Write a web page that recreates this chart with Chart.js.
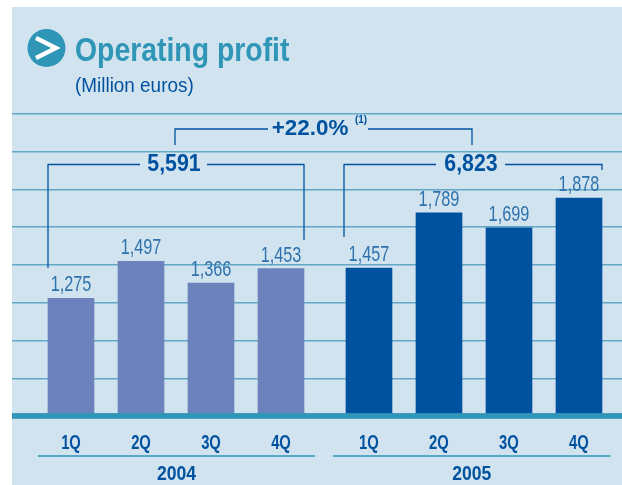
<!DOCTYPE html>
<html><head><meta charset="utf-8">
<script src="https://cdn.jsdelivr.net/npm/chart.js@4"></script>
<style>
html,body{margin:0;padding:0;background:#fff;width:622px;height:485px;overflow:hidden}
#panel{position:absolute;left:12px;top:7px;width:610px;height:478px;background:#d0e3ef}
canvas{position:absolute;left:0;top:0}
</style></head><body>
<div id="panel"></div>
<canvas id="c" width="622" height="485"></canvas>
<script>
const quarters=["1Q","2Q","3Q","4Q"];
const years=["2004","2005"];
const values2004=[1275,1497,1366,1453];
const values2005=[1457,1789,1699,1878];
const totals=["5,591","6,823"];
const growth="+22.0%";
const footnote="(1)";
const titleText="Operating profit";
const subtitleText="(Million euros)";

const BLUE="#00529f",TEAL="#2f96b8",SANS='"Liberation Sans",sans-serif';
const yearGap=0.257;
const pos=(y,q)=>y*4+q+y*yearGap;
const ds=(y,vals,color)=>({label:years[y],data:vals.map((v,q)=>({x:pos(y,q),y:v})),backgroundColor:color,barThickness:46,grouped:false});

function txt(ctx,s,x,y,font,color,align,sx){ctx.save();ctx.translate(x,y);ctx.scale(sx||1,1);ctx.font=font;ctx.fillStyle=color;ctx.textAlign=align||"center";ctx.textBaseline="alphabetic";ctx.fillText(s,0,0);ctx.restore();}
function seg(ctx,pts,color,w){ctx.beginPath();ctx.strokeStyle=color;ctx.lineWidth=w||1.3;pts.forEach((p,i)=>i?ctx.lineTo(p[0],p[1]):ctx.moveTo(p[0],p[1]));ctx.stroke();}

const deco={id:"deco",afterDatasetsDraw(chart){
  const ctx=chart.ctx,x=chart.scales.x,a0=chart.chartArea;ctx.save();
  // axis band
  ctx.fillStyle=TEAL;ctx.fillRect(a0.left,a0.bottom-3.2,a0.right-a0.left,5.7);
  // header
  ctx.beginPath();ctx.arc(46.5,48,19,0,Math.PI*2);ctx.fillStyle=TEAL;ctx.fill();
  seg(ctx,[[36,38],[56,48],[36,58]],"#fff",4.2);
  txt(ctx,titleText,75,61,'bold 33px '+SANS,TEAL,"left",0.86);
  txt(ctx,subtitleText,75,92,'21px '+SANS,BLUE,"left",0.9);
  // value labels
  const bars=[];
  chart.data.datasets.forEach((d,di)=>{chart.getDatasetMeta(di).data.forEach((b,i)=>{
    bars.push(b);
    txt(ctx,d.data[i].y.toLocaleString("en-US"),b.x,b.y-7,'22px '+SANS,"#2f72ad","center",0.74);
  });});
  // quarter tick labels
  x.ticks.forEach((t,i)=>txt(ctx,quarters[i%4],x.getPixelForTick(i),449,'bold 20px '+SANS,BLUE,"center",0.74));
  // year underlines and labels
  years.forEach((yr,y)=>{
    const a=x.getPixelForValue(pos(y,0))-33-y*3,b=x.getPixelForValue(pos(y,3))+34-y*2.5;
    seg(ctx,[[a,456],[b,456]],TEAL,1.3);
    txt(ctx,yr,(a+b)/2,480,'bold 20px '+SANS,BLUE,"center",0.88);
  });
  // total brackets
  const L=b=>b.x-b.width/2,R=b=>b.x+b.width/2;
  const c1=(L(bars[0])+R(bars[3]))/2,c2=(L(bars[4])+R(bars[7]))/2;
  seg(ctx,[[140,164.5],[L(bars[0]),164.5],[L(bars[0]),268]],BLUE);
  seg(ctx,[[207,164.5],[R(bars[3]),164.5],[R(bars[3]),240]],BLUE);
  txt(ctx,totals[0],c1-2,171,'bold 24px '+SANS,BLUE,"center",0.89);
  seg(ctx,[[436,164.5],[L(bars[4])-2,164.5],[L(bars[4])-2,237]],BLUE);
  seg(ctx,[[505,164.5],[R(bars[7]),164.5],[R(bars[7]),170]],BLUE);
  txt(ctx,totals[1],c2-3,171,'bold 24px '+SANS,BLUE,"center",0.89);
  // growth bracket
  seg(ctx,[[175,145],[175,129],[268,129]],BLUE);
  seg(ctx,[[368,129],[472,129],[472,145]],BLUE);
  txt(ctx,growth,310,135,'bold 22px '+SANS,BLUE,"center",1.02);
  txt(ctx,footnote,361,123,'bold 10px '+SANS,BLUE);
  ctx.restore();
}};

new Chart(document.getElementById("c"),{
  type:"bar",
  data:{datasets:[ds(0,values2004,"#6c82bd"),ds(1,values2005,BLUE)]},
  plugins:[deco],
  options:{
    responsive:false,animation:false,
    layout:{padding:{left:12,top:113.5,right:0,bottom:0}},
    plugins:{legend:{display:false},tooltip:{enabled:false},title:{display:false}},
    scales:{
      x:{type:"linear",offset:false,min:-59/70,max:551/70,
        afterBuildTicks(s){s.ticks=[0,1].flatMap(y=>quarters.map((_,q)=>({value:pos(y,q)})));},
        afterFit(s){s.height=68.7;},
        grid:{display:false,drawTicks:false},
        border:{display:false},
        ticks:{display:false,autoSkip:false,maxRotation:0}
      },
      y:{min:565,max:2386,
        ticks:{display:false,count:9},
        afterFit(s){s.width=0;},
        border:{display:false},
        grid:{color:"#62a8c6",lineWidth:1.4,drawTicks:false}
      }
    }
  }
});
</script>
</body></html>
